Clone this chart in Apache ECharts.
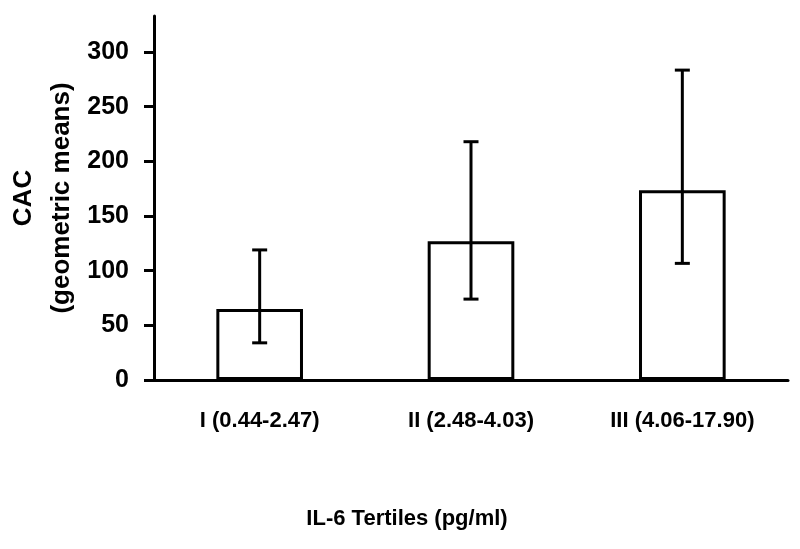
<!DOCTYPE html>
<html>
<head>
<meta charset="utf-8">
<script src="https://cdn.jsdelivr.net/npm/echarts@6/dist/echarts.min.js"></script>
<style>html,body{margin:0;padding:0;background:#fff}#c{width:800px;height:549px}</style>
</head>
<body>
<div id="c"></div>
<script>
const categories = ['I (0.44-2.47)', 'II (2.48-4.03)', 'III (4.06-17.90)'];
const means = [65, 127, 173.5];
const lowerCI = [34, 74, 106.7];
const upperCI = [119, 218, 283.5];
const yTicks = [0, 50, 100, 150, 200, 250, 300];

const chart = echarts.init(document.getElementById('c'));
const font = 'Liberation Sans, Arial, sans-serif';
chart.setOption({
  animation: false,
  backgroundColor: '#fff',
  grid: { left: 154, right: 12, top: 16, bottom: 169, containLabel: false, outerBoundsMode: 'none' },
  xAxis: {
    type: 'category',
    data: categories,
    axisLine: { lineStyle: { color: '#000', width: 3 } },
    axisTick: { show: false },
    axisLabel: { color: '#000', fontFamily: font, fontWeight: 'bold', fontSize: 22, margin: 30 },
    name: 'IL-6 Tertiles (pg/ml)',
    nameLocation: 'middle',
    nameGap: 128,
    nameMoveOverlap: false,
    nameTextStyle: { color: '#000', fontFamily: font, fontWeight: 'bold', fontSize: 22, padding: [0, 128, 0, 0] }
  },
  yAxis: {
    type: 'value',
    min: 0,
    max: 333,
    interval: 50,
    splitLine: { show: false },
    axisLine: { show: true, lineStyle: { color: '#000', width: 3 } },
    axisTick: { show: true, length: 10, lineStyle: { color: '#000', width: 3 }, customValues: yTicks },
    axisLabel: { color: '#000', fontFamily: font, fontWeight: 'bold', fontSize: 25, margin: 25, customValues: yTicks,
      formatter: v => (yTicks.indexOf(v) >= 0 ? String(v) : '') },
    name: 'CAC\n(geometric means)',
    nameLocation: 'middle',
    nameRotate: 90,
    nameGap: 73,
    nameMoveOverlap: false,
    nameTextStyle: { color: '#000', fontFamily: font, fontWeight: 'bold', fontSize: 26, lineHeight: 38 }
  },
  series: [
    {
      type: 'bar',
      data: means,
      barWidth: '41%',
      itemStyle: { color: '#fff', borderColor: '#000', borderWidth: 3 }
    },
    {
      type: 'custom',
      data: categories.map((c, i) => [i, lowerCI[i], upperCI[i]]),
      z: 10,
      renderItem: function (params, api) {
        const x = api.value(0);
        const lo = api.coord([x, api.value(1)]);
        const hi = api.coord([x, api.value(2)]);
        const hw = 7.5;
        const style = { stroke: '#000', lineWidth: 3 };
        return {
          type: 'group',
          children: [
            { type: 'line', shape: { x1: lo[0], y1: lo[1], x2: hi[0], y2: hi[1] }, style },
            { type: 'line', shape: { x1: hi[0] - hw, y1: hi[1], x2: hi[0] + hw, y2: hi[1] }, style },
            { type: 'line', shape: { x1: lo[0] - hw, y1: lo[1], x2: lo[0] + hw, y2: lo[1] }, style }
          ]
        };
      }
    }
  ]
});
</script>
</body>
</html>
